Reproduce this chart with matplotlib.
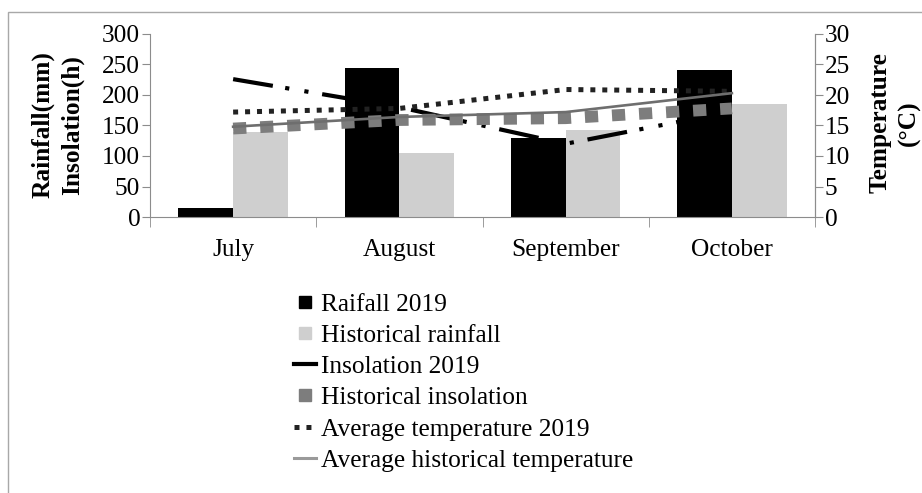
import matplotlib
matplotlib.use("Agg")
from matplotlib import pyplot as plt
from matplotlib.lines import Line2D
from matplotlib.patches import Rectangle
import numpy as np

plt.rcParams['font.family'] = ['Liberation Serif', 'DejaVu Serif']
plt.rcParams['lines.scale_dashes'] = False

months = ['July', 'August', 'September', 'October']
rain_2019 = [14, 244, 130, 241]
rain_hist = [140, 105, 143, 186]
insol_2019 = [226, 180, 120, 173]
insol_hist = [145, 159, 162, 178]
temp_2019 = [17.2, 17.8, 20.9, 20.6]
temp_hist = [14.8, 16.4, 17.2, 20.3]

fs = 18.3
grey = '#8c8c8c'

fig = plt.figure(figsize=(9.22, 4.93), dpi=100)
ax = fig.add_axes([150/922, 1-217/493, 665/922, 183/493])
ax2 = ax.twinx()

x = np.arange(len(months))
w = 0.33
ax.bar(x - w/2, rain_2019, w, color='black', zorder=2)
ax.bar(x + w/2, rain_hist, w, color='#cfcfcf', zorder=2)
ax.plot(x, insol_2019, color='black', lw=3, solid_capstyle='butt',
        dashes=(29, 9, 3, 11, 3, 10), zorder=3)
ax.plot(x, insol_hist, color='#7d7d7d', lw=8.5, dashes=(9.5, 10), dash_capstyle='butt', zorder=4)
ax2.plot(x, temp_2019, color='#222222', lw=3.6, dashes=(3.6, 5), dash_capstyle='butt')
ax2.plot(x, temp_hist, color='#6e6e6e', lw=1.9)

ax.set_xlim(-0.5, 3.5)
ax.set_ylim(0, 300)
ax.set_yticks(range(0, 301, 50))
ax2.set_ylim(0, 30)
ax2.set_yticks(range(0, 31, 5))
ax.set_xticks(x)
ax.set_xticklabels(months)
ax.set_xticks(np.arange(-0.5, 4, 1), minor=True)
ax.tick_params(axis='x', which='major', length=0, pad=16, labelsize=fs)
ax.tick_params(axis='x', which='minor', length=7, color=grey, direction='out')
ax.tick_params(axis='y', length=6, color=grey, labelsize=fs, pad=1)
ax2.tick_params(axis='y', length=6, color=grey, labelsize=fs, pad=1)

for a in (ax, ax2):
    a.spines['top'].set_visible(False)
    for s in ('left', 'right', 'bottom'):
        a.spines[s].set_color(grey)
ax2.spines['bottom'].set_visible(False)
ax2.spines['left'].set_visible(False)

fig.text(58/922, 1-125/493, 'Rainfall(mm)\nInsolation(h)', rotation=90, fontsize=fs,
         fontweight='bold', ha='center', va='center', linespacing=1.35)
fig.text(895/922, 1-123/493, 'Temperature\n(°C)', rotation=90, fontsize=fs,
         fontweight='bold', ha='center', va='center', linespacing=1.35)

handles = [
    Line2D([], [], ls='none', marker='s', ms=9, color='black'),
    Line2D([], [], ls='none', marker='s', ms=9, color='#cfcfcf'),
    Line2D([], [], color='black', lw=3),
    Line2D([], [], ls='none', marker='s', ms=9, color='#7d7d7d'),
    Line2D([], [], color='#222222', lw=3.6, dashes=(3.6, 5), dash_capstyle='butt'),
    Line2D([], [], color='#9a9a9a', lw=2.2),
]
labels = ['Raifall 2019', 'Historical rainfall', 'Insolation 2019',
          'Historical insolation', 'Average temperature 2019',
          'Average historical temperature']
fig.legend(handles, labels, loc='upper left', bbox_to_anchor=(294/922, 1-293/493),
           frameon=False, fontsize=fs, handlelength=0.85, handletextpad=0.2,
           labelspacing=0.33, borderpad=0, borderaxespad=0)

fig.add_artist(Rectangle((8/922, -0.1), 1.2, 1-12/493+0.1, transform=fig.transFigure,
                         fill=False, edgecolor='#a8a8a8', lw=1))

fig.savefig('out.png', dpi=100)
